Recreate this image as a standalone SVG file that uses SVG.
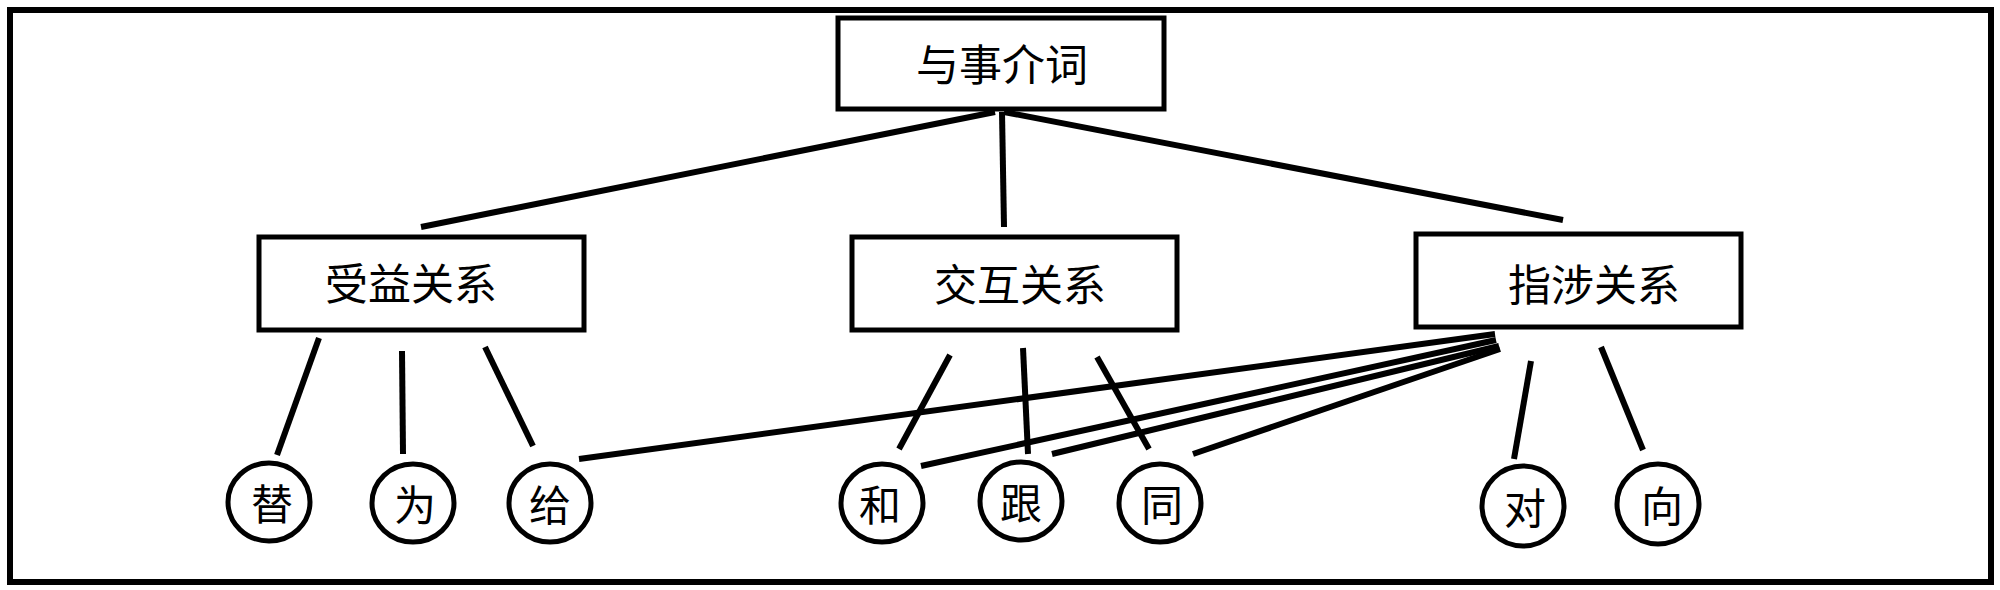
<svg xmlns="http://www.w3.org/2000/svg" width="2000" height="590" viewBox="0 0 2000 590">
<style>
.box{fill:#fff;stroke:#000;stroke-width:5}
.circ{fill:#fff;stroke:#000;stroke-width:5}
.frame{fill:none;stroke:#000;stroke-width:6}
.edge{stroke:#000;stroke-width:6;stroke-linecap:butt;fill:none}
.t{font-family:"Noto Sans CJK SC","Noto Sans CJK JP",sans-serif;font-size:43px;fill:#000;text-anchor:middle;dominant-baseline:central}
.c{font-size:42px}
</style>
<rect width="2000" height="590" fill="#fff"/>
<rect class="frame" x="10" y="10" width="1981" height="572"/>
<g id="connectors">
<line class="edge" x1="995" y1="112" x2="421" y2="227"/>
<line class="edge" x1="1002" y1="112" x2="1004" y2="227"/>
<line class="edge" x1="1004" y1="112" x2="1563" y2="220"/>
<line class="edge" x1="319" y1="338" x2="277" y2="455"/>
<line class="edge" x1="402" y1="351" x2="403" y2="454"/>
<line class="edge" x1="485" y1="347" x2="533" y2="446"/>
<line class="edge" x1="950" y1="355" x2="899" y2="449"/>
<line class="edge" x1="1023" y1="348" x2="1028" y2="454"/>
<line class="edge" x1="1097" y1="357" x2="1149" y2="449"/>
<line class="edge" x1="1531" y1="361" x2="1514" y2="459"/>
<line class="edge" x1="1601" y1="347" x2="1643" y2="450"/>
<line class="edge" x1="1495" y1="334" x2="579" y2="459"/>
<line class="edge" x1="1496" y1="340" x2="921" y2="466"/>
<line class="edge" x1="1499" y1="346" x2="1052" y2="454"/>
<line class="edge" x1="1500" y1="349" x2="1193" y2="454"/>
</g>
<g id="root">
<rect class="box" x="838" y="18" width="326" height="91"/>
<text class="t" x="1002" y="62">与事介词</text>
</g>
<g id="n-shouyi">
<rect class="box" x="259" y="237" width="325" height="93"/>
<text class="t" x="411" y="281">受益关系</text>
</g>
<g id="n-jiaohu">
<rect class="box" x="852" y="237" width="325" height="93"/>
<text class="t" x="1020" y="282">交互关系</text>
</g>
<g id="n-zhishe">
<rect class="box" x="1416" y="234" width="325" height="93"/>
<text class="t" x="1594" y="282">指涉关系</text>
</g>
<g id="l-ti"><ellipse class="circ" cx="269" cy="502" rx="41" ry="39"/><text class="t c" x="272" y="501">替</text></g>
<g id="l-wei"><ellipse class="circ" cx="413" cy="503" rx="41" ry="39"/><text class="t c" x="415" y="502">为</text></g>
<g id="l-gei"><ellipse class="circ" cx="550" cy="503" rx="41" ry="39"/><text class="t c" x="550" y="502">给</text></g>
<g id="l-he"><ellipse class="circ" cx="882" cy="503" rx="41" ry="39"/><text class="t c" x="880" y="502">和</text></g>
<g id="l-gen"><ellipse class="circ" cx="1021" cy="501" rx="41" ry="39"/><text class="t c" x="1021" y="500">跟</text></g>
<g id="l-tong"><ellipse class="circ" cx="1160" cy="503" rx="41" ry="39"/><text class="t c" x="1162" y="502">同</text></g>
<g id="l-dui"><ellipse class="circ" cx="1523" cy="506" rx="41" ry="40"/><text class="t c" x="1525" y="505">对</text></g>
<g id="l-xiang"><ellipse class="circ" cx="1658" cy="504" rx="41" ry="40"/><text class="t c" x="1662" y="503">向</text></g>
</svg>
